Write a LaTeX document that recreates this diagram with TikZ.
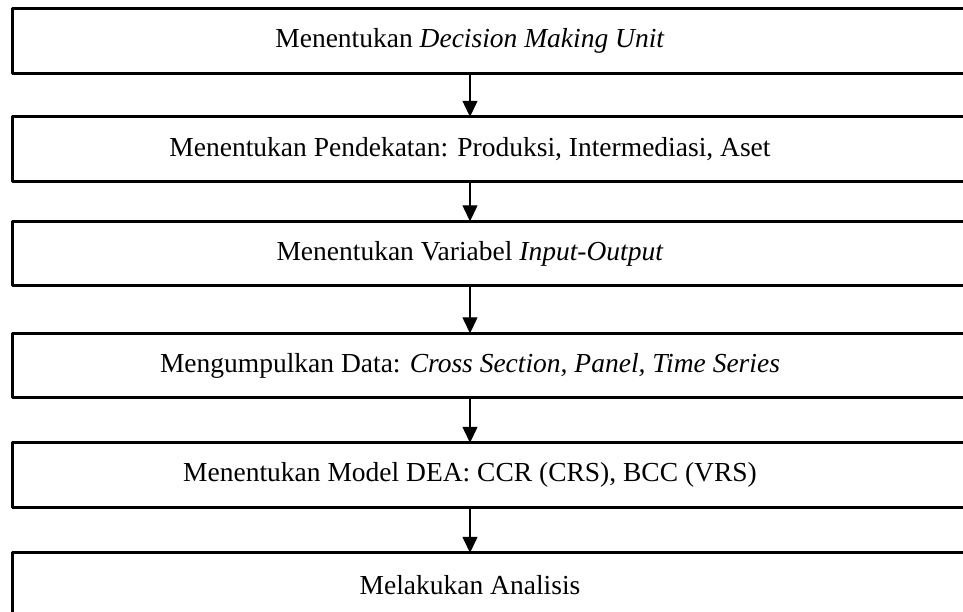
\documentclass[tikz,border=0pt]{standalone}
\usepackage{fontspec}
\setmainfont{Liberation Serif}
\usetikzlibrary{arrows.meta}
\tikzset{
  stepbox/.style={minimum width=918pt, minimum height=64pt, inner sep=0pt, font=\fontsize{27.5}{32}\selectfont},
  frame/.style={line width=3pt},
  flow/.style={line width=1.3pt, -{Triangle[width=15pt,length=16pt]}}
}
\begin{document}
\begin{tikzpicture}[line join=round]
\clip (0,0) rectangle (963pt,-611pt);
\node[stepbox] (s1) at (470pt,-41pt) {Menentukan \textit{Decision Making Unit}};
\node[stepbox] (s2) at (470pt,-149pt) {Menentukan Pendekatan: Produksi, Intermediasi, Aset};
\node[stepbox] (s3) at (470pt,-253.5pt) {Menentukan Variabel \textit{Input-Output}};
\node[stepbox] (s4) at (470pt,-365.5pt) {Mengumpulkan Data: \textit{Cross Section, Panel, Time Series}};
\node[stepbox] (s5) at (470pt,-475pt) {Menentukan Model DEA: CCR (CRS), BCC (VRS)};
\node[stepbox] (s6) at (470pt,-585pt) {Melakukan Analisis};
\foreach \n in {s1,s2,s3,s4,s5,s6}
  \draw[frame] ([xshift=2pt]\n.north west) rectangle ([xshift=80pt]\n.south east);
\draw[flow] (s1.south) -- (s2.north);
\draw[flow] (s2.south) -- (s3.north);
\draw[flow] (s3.south) -- (s4.north);
\draw[flow] (s4.south) -- (s5.north);
\draw[flow] (s5.south) -- (s6.north);
\end{tikzpicture}
\end{document}
